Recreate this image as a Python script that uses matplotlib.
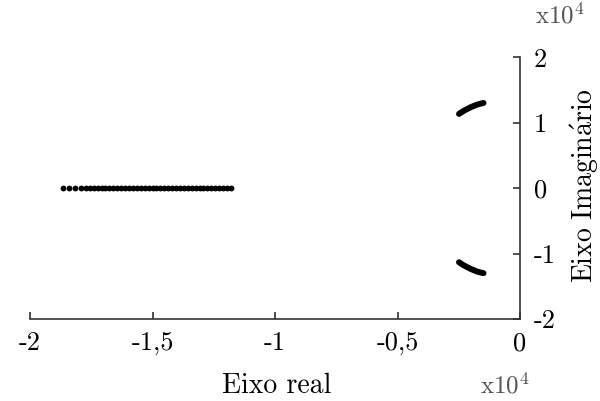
import matplotlib
matplotlib.use('Agg')
import matplotlib.pyplot as plt

plt.rcParams['font.family'] = ['cmr10', 'DejaVu Serif']
plt.rcParams['mathtext.fontset'] = 'cm'
plt.rcParams['axes.unicode_minus'] = False

# polos sobre o eixo real
real_x = [-18670, -18410, -18160, -17930, -17710,
          -17560, -17400, -17240, -17080, -16920, -16760, -16600, -16440,
          -16280, -16120, -15960, -15800, -15640, -15480, -15320, -15160,
          -15000, -14840, -14680, -14520, -14360, -14200, -14040, -13880,
          -13720, -13560, -13400, -13240, -13080, -12920, -12760, -12600,
          -12440, -12280, -12120, -11960, -11800]
real_y = [0] * len(real_x)

# ramos complexos conjugados
ramo_x = [-2490, -2370, -2250, -2120, -2000, -1870, -1750, -1620, -1490]
ramo_y = [11330, 11630, 11900, 12150, 12370, 12570, 12750, 12890, 13000]
ramo_y_neg = [-v for v in ramo_y]

xticks = [-20000, -15000, -10000, -5000, 0]
xticklabels = ['-2', '-1,5', '-1', '-0,5', '0']
yticks = [-20000, -10000, 0, 10000, 20000]
yticklabels = ['-2', '-1', '0', '1', '2']

fig = plt.figure(figsize=(6, 4.01), dpi=100)
ax = fig.add_axes([0.05, 0.2045, 0.8167, 0.653])

ax.plot(real_x, real_y, 'o', color='black', ms=4.2, mew=0)
ax.plot(ramo_x, ramo_y, '-', color='black', lw=4.3, solid_capstyle='round')
ax.plot(ramo_x, ramo_y_neg, '-', color='black', lw=4.3, solid_capstyle='round')

ax.set_xlim(-20000, 0)
ax.set_ylim(-20000, 20000)

for s in ['left', 'top']:
    ax.spines[s].set_visible(False)
for s in ['bottom', 'right']:
    ax.spines[s].set_color('#333333')
    ax.spines[s].set_linewidth(1.2)

ax.yaxis.tick_right()
ax.set_xticks(xticks)
ax.set_xticklabels(xticklabels)
ax.set_yticks(yticks)
ax.set_yticklabels(yticklabels)
ax.tick_params(direction='in', length=5, width=1.2, color='#333333',
               labelsize=19)
ax.tick_params(axis='x', pad=9)
ax.tick_params(axis='y', pad=10)

xl = ax.set_xlabel('Eixo real', fontsize=20)
ax.xaxis.set_label_coords(0.504, -0.256)
xl.set_verticalalignment('center')

ax.yaxis.set_label_position('right')
yl = ax.set_ylabel(r'$\mathrm{Eixo\ Imagin\acute{a}rio}$', fontsize=20)
ax.yaxis.set_label_coords(1.131, 0.51)
yl.set_verticalalignment('center')
yl.set_horizontalalignment('center')

fig.text(0.842, 0.04, r'$\mathrm{x10^4}$', fontsize=18, color='#555555',
         ha='center', va='center')
fig.text(0.933, 0.962, r'$\mathrm{x10^4}$', fontsize=18, color='#555555',
         ha='center', va='center')

fig.savefig('out.png', dpi=100)
